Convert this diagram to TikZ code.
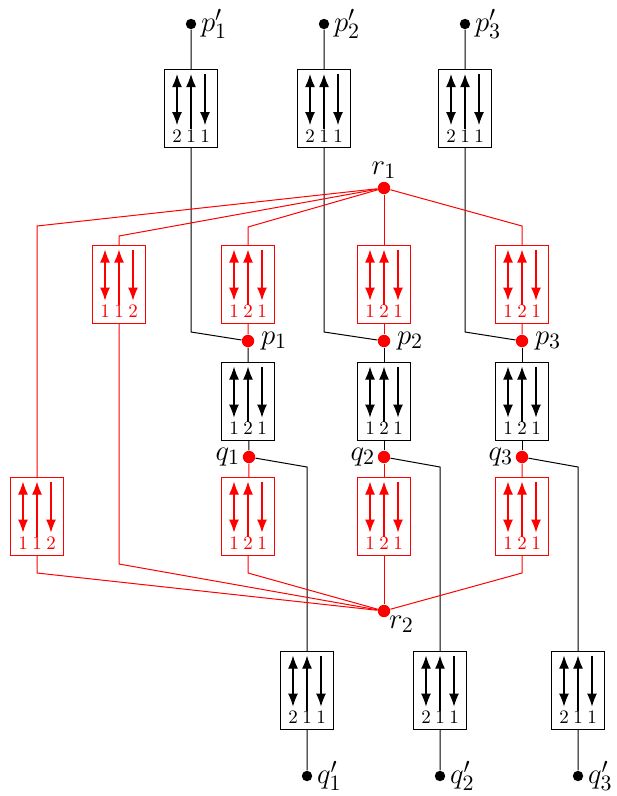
\documentclass[tikz,border=0pt]{standalone}
\usetikzlibrary{arrows.meta,backgrounds}
\tikzset{
  gbox/.style={draw, fill=white, minimum width=26.5pt, minimum height=39pt, inner sep=0pt},
  bdot/.style={circle, fill=black, inner sep=0pt, minimum size=5.2pt},
  rdot/.style={circle, fill=red, inner sep=0pt, minimum size=6.2pt},
  conn/.style={line width=0.5pt},
  rconn/.style={red, line width=0.5pt},
  arr/.style={line width=0.6pt},
  dig/.style={font=\fontsize{9.5}{11}\selectfont, inner sep=0pt, anchor=base},
  lab/.style={inner sep=1pt, font=\fontsize{15}{18}\selectfont},
}
\newcommand\mygadget[7]{%
  \node[gbox,draw=#4] (#1) at (#2,#3) {};
  \draw[arr,#4,<->] ([xshift=-7pt,yshift=-2.5pt]#1.north) -- ([xshift=-7pt,yshift=-28pt]#1.north);
  \draw[arr,#4,<-] ([yshift=-2.5pt]#1.north) -- ([yshift=-30pt]#1.north);
  \draw[arr,#4,->] ([xshift=7pt,yshift=-2.5pt]#1.north) -- ([xshift=7pt,yshift=-28pt]#1.north);
  \node[dig,text=#4] at ([xshift=-7pt,yshift=-36.5pt]#1.north) {#5};
  \node[dig,text=#4] at ([yshift=-36.5pt]#1.north) {#6};
  \node[dig,text=#4] at ([xshift=7pt,yshift=-36.5pt]#1.north) {#7};
}
\begin{document}
\begin{tikzpicture}[x=0.5pt,y=-0.5pt,>={Latex[length=6.5pt,width=5pt]}]
\useasboundingbox (0,0) rectangle (616,796);
% dots
\node[bdot] (pp1) at (191,24) {};
\node[bdot] (pp2) at (324,24) {};
\node[bdot] (pp3) at (465,24) {};
\node[bdot] (qq1) at (307,776) {};
\node[bdot] (qq2) at (440,776) {};
\node[bdot] (qq3) at (578,776) {};
\node[rdot] (r1) at (384,188) {};
\node[rdot] (r2) at (384,611) {};
\node[rdot] (p1) at (248,341) {};
\node[rdot] (p2) at (384,341) {};
\node[rdot] (p3) at (522,341) {};
\node[rdot] (q1) at (249,457) {};
\node[rdot] (q2) at (384,457) {};
\node[rdot] (q3) at (522,457) {};
% labels
\node[lab,anchor=west] at ([xshift=1pt]pp1.east) {$p'_1$};
\node[lab,anchor=west] at ([xshift=1pt]pp2.east) {$p'_2$};
\node[lab,anchor=west] at ([xshift=1pt]pp3.east) {$p'_3$};
\node[lab,anchor=west] at ([xshift=1pt]qq1.east) {$q'_1$};
\node[lab,anchor=west] at ([xshift=1pt]qq2.east) {$q'_2$};
\node[lab,anchor=west] at ([xshift=1pt]qq3.east) {$q'_3$};
\node[lab,anchor=south] at ([yshift=0pt]r1.north) {$r_1$};
\node[lab,anchor=north west] at ([xshift=-1pt,yshift=1pt]r2.south east) {$r_2$};
\node[lab,anchor=west] at ([xshift=2pt]p1.east) {$p_1$};
\node[lab,anchor=west] at ([xshift=2pt]p2.east) {$p_2$};
\node[lab,anchor=west] at ([xshift=2pt]p3.east) {$p_3$};
\node[lab,anchor=east] at ([xshift=0pt]q1.west) {$q_1$};
\node[lab,anchor=east] at ([xshift=0pt]q2.west) {$q_2$};
\node[lab,anchor=east] at ([xshift=0pt]q3.west) {$q_3$};
% black gadgets
\mygadget{T1}{191}{108.5}{black}{2}{1}{1}
\mygadget{T2}{324}{108.5}{black}{2}{1}{1}
\mygadget{T3}{465}{108.5}{black}{2}{1}{1}
\mygadget{M1}{248}{401}{black}{1}{2}{1}
\mygadget{M2}{384}{401}{black}{1}{2}{1}
\mygadget{M3}{522}{401}{black}{1}{2}{1}
\mygadget{B1}{307}{690}{black}{2}{1}{1}
\mygadget{B2}{440}{690}{black}{2}{1}{1}
\mygadget{B3}{578}{690}{black}{2}{1}{1}
% red gadgets
\mygadget{U0}{119}{284}{red}{1}{1}{2}
\mygadget{U1}{248}{284}{red}{1}{2}{1}
\mygadget{U2}{384}{284}{red}{1}{2}{1}
\mygadget{U3}{522}{284}{red}{1}{2}{1}
\mygadget{L0}{37}{516}{red}{1}{1}{2}
\mygadget{L1}{248}{516}{red}{1}{2}{1}
\mygadget{L2}{384}{516}{red}{1}{2}{1}
\mygadget{L3}{522}{516}{red}{1}{2}{1}
% bend points
\coordinate (a1) at (191,332);
\coordinate (a2) at (324,332);
\coordinate (a3) at (465,332);
\coordinate (b1) at (307,467);
\coordinate (b2) at (440,467);
\coordinate (b3) at (578,467);
\coordinate (c0) at (37,226);
\coordinate (d0) at (37,573);
\coordinate (c5) at (119,236);
\coordinate (d5) at (119,564);
\coordinate (c1) at (248,227);
\coordinate (d1) at (248,573);
\coordinate (c3) at (522,226);
\coordinate (d3) at (522,573);
\begin{scope}[on background layer]
  \draw[conn] (pp1) -- (a1) -- (p1);
  \draw[conn] (pp2) -- (a2) -- (p2);
  \draw[conn] (pp3) -- (a3) -- (p3);
  \draw[conn] (p1) -- (q1);
  \draw[conn] (p2) -- (q2);
  \draw[conn] (p3) -- (q3);
  \draw[conn] (q1) -- (b1) -- (qq1);
  \draw[conn] (q2) -- (b2) -- (qq2);
  \draw[conn] (q3) -- (b3) -- (qq3);
  \draw[rconn] (r1) -- (c0) -- (d0) -- (r2);
  \draw[rconn] (r1) -- (c5) -- (d5) -- (r2);
  \draw[rconn] (r1) -- (c1) -- (p1);
  \draw[rconn] (r1) -- (p2);
  \draw[rconn] (r1) -- (c3) -- (p3);
  \draw[rconn] (q1) -- (d1) -- (r2);
  \draw[rconn] (q2) -- (r2);
  \draw[rconn] (q3) -- (d3) -- (r2);
\end{scope}
\end{tikzpicture}
\end{document}
